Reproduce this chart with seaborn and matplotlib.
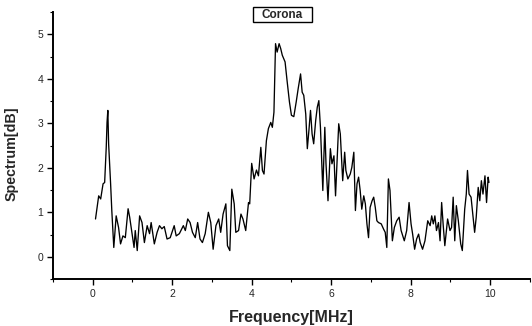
import numpy as np
import pandas as pd
import matplotlib
matplotlib.use("Agg")
import matplotlib.pyplot as plt
from matplotlib.ticker import MultipleLocator
from matplotlib.patches import Rectangle
import seaborn as sns

# values
freq = [0.07, 0.15, 0.20, 0.26, 0.30, 0.34, 0.36, 0.38, 0.40, 0.45, 0.48, 0.53,
        0.59, 0.65, 0.70, 0.76, 0.82, 0.89, 0.93, 0.99, 1.04, 1.07, 1.12, 1.18,
        1.24, 1.30, 1.37, 1.43, 1.47, 1.55, 1.62, 1.68, 1.74, 1.80, 1.87, 1.95,
        2.05, 2.10, 2.18, 2.28, 2.33, 2.39, 2.45, 2.51, 2.58, 2.64, 2.70, 2.76,
        2.83, 2.91, 2.97, 3.03, 3.10, 3.17, 3.22, 3.28, 3.35, 3.39, 3.45, 3.50,
        3.56, 3.60, 3.67, 3.73, 3.78, 3.85, 3.92, 3.95, 4.00, 4.06, 4.12, 4.17,
        4.23, 4.27, 4.31, 4.37, 4.42, 4.48, 4.52, 4.56, 4.60, 4.64, 4.69, 4.73,
        4.77, 4.84, 4.89, 4.95, 5.00, 5.06, 5.12, 5.17, 5.23, 5.27, 5.31, 5.36,
        5.40, 5.44, 5.48, 5.52, 5.56, 5.61, 5.65, 5.69, 5.73, 5.79, 5.84, 5.87,
        5.92, 5.98, 6.02, 6.07, 6.11, 6.15, 6.19, 6.23, 6.29, 6.34, 6.37, 6.42,
        6.48, 6.52, 6.57, 6.61, 6.65, 6.69, 6.73, 6.77, 6.82, 6.86, 6.90, 6.94,
        6.98, 7.03, 7.07, 7.11, 7.15, 7.19, 7.26, 7.32, 7.36, 7.40, 7.44, 7.48,
        7.54, 7.59, 7.65, 7.71, 7.76, 7.84, 7.90, 7.96, 8.01, 8.05, 8.10, 8.15,
        8.20, 8.24, 8.30, 8.36, 8.43, 8.49, 8.53, 8.57, 8.61, 8.65, 8.70, 8.74,
        8.78, 8.82, 8.86, 8.93, 8.99, 9.03, 9.07, 9.11, 9.15, 9.20, 9.26, 9.30,
        9.36, 9.40, 9.43, 9.47, 9.52, 9.57, 9.61, 9.65, 9.70, 9.74, 9.78, 9.82,
        9.87, 9.91, 9.95, 9.97]
spec = [0.85, 1.37, 1.30, 1.64, 1.67, 2.46, 3.02, 3.29, 2.54, 1.64, 1.04, 0.21,
        0.92, 0.66, 0.29, 0.47, 0.43, 1.08, 0.89, 0.52, 0.21, 0.59, 0.14, 0.92,
        0.77, 0.32, 0.70, 0.52, 0.77, 0.29, 0.55, 0.70, 0.63, 0.68, 0.40, 0.43,
        0.70, 0.47, 0.52, 0.70, 0.59, 0.85, 0.77, 0.55, 0.43, 0.77, 0.40, 0.32,
        0.52, 1.00, 0.77, 0.17, 0.70, 0.85, 0.55, 0.96, 1.19, 0.25, 0.14, 1.52,
        1.19, 0.55, 0.59, 0.96, 0.85, 0.59, 1.22, 1.19, 2.10, 1.75, 1.95, 1.82,
        2.46, 1.94, 1.86, 2.61, 2.88, 3.02, 2.91, 3.25, 4.79, 4.60, 4.79, 4.68,
        4.53, 4.38, 3.96, 3.48, 3.18, 3.15, 3.48, 3.78, 4.11, 3.70, 3.63, 3.21,
        2.43, 2.84, 3.29, 2.76, 2.54, 3.06, 3.36, 3.51, 2.91, 1.49, 2.91, 2.09,
        1.26, 2.43, 2.09, 2.27, 1.37, 2.16, 2.99, 2.76, 1.71, 2.35, 1.94, 1.75,
        1.86, 2.01, 2.35, 1.04, 1.64, 1.79, 1.49, 1.07, 1.37, 1.19, 0.74, 0.43,
        1.11, 1.26, 1.34, 1.11, 0.81, 0.77, 0.74, 0.62, 0.55, 0.21, 1.75, 1.49,
        0.36, 0.66, 0.81, 0.89, 0.59, 0.36, 0.59, 1.22, 0.74, 0.51, 0.17, 0.40,
        0.51, 0.32, 0.17, 0.36, 0.81, 0.70, 0.92, 0.74, 0.92, 0.59, 0.77, 0.36,
        1.22, 0.70, 0.25, 0.85, 0.59, 0.66, 1.34, 0.36, 1.15, 0.81, 0.29, 0.14,
        1.07, 1.41, 1.94, 1.41, 1.34, 0.89, 0.55, 0.89, 1.56, 1.26, 1.71, 1.41,
        1.82, 1.22, 1.79, 1.67]
x_ticks = [0, 2, 4, 6, 8, 10]
y_ticks = [0, 1, 2, 3, 4, 5]

df = pd.DataFrame({"Frequency[MHz]": freq, "Spectrum[dB]": spec})

sns.set_style("ticks")
plt.rcParams['font.family'] = ['Liberation Sans', 'DejaVu Sans']

fig = plt.figure(figsize=(5.32, 3.26), dpi=100)
ax = fig.add_axes([0.0996, 0.144, 0.8964, 0.819])
sns.lineplot(data=df, x="Frequency[MHz]", y="Spectrum[dB]", ax=ax,
             color="black", lw=0.95, sort=False)

ax.set_xlim(-1, 11)
ax.set_ylim(-0.5, 5.5)
ax.set_xticks(x_ticks)
ax.set_yticks(y_ticks)
ax.xaxis.set_minor_locator(MultipleLocator(1))
ax.yaxis.set_minor_locator(MultipleLocator(0.5))
ax.tick_params(which="major", direction="out", length=4, width=1,
               labelsize=7.5, pad=3, color="black")
ax.tick_params(which="minor", direction="out", length=2.5, width=0.8,
               color="black")
for s in ["left", "bottom"]:
    ax.spines[s].set_linewidth(1.4)
    ax.spines[s].set_color("black")
sns.despine(ax=ax)

ax.set_xlabel("Frequency[MHz]", fontsize=11.5, fontweight="bold", labelpad=8)
ax.set_ylabel("Spectrum[dB]", fontsize=10.3, fontweight="bold", labelpad=10)
ax.yaxis.set_label_coords(-0.072, 0.47)

# "Corona" label box
fig.patches.append(Rectangle((253 / 532, 1 - 21.5 / 326), 59 / 532, 14.5 / 326,
                             transform=fig.transFigure, fc="white",
                             ec="black", lw=1))
fig.text(282.5 / 532, 1 - 14.5 / 326, "Corona", fontsize=8.5, fontweight="bold",
         ha="center", va="center")

fig.savefig("out.png", dpi=100)
